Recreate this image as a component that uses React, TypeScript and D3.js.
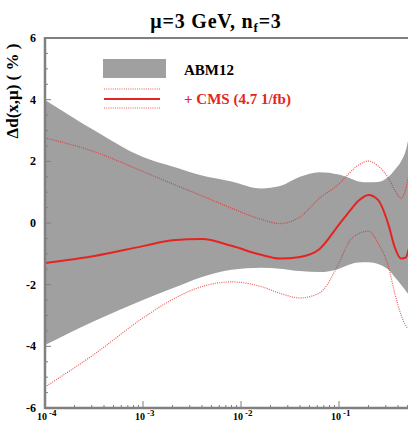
import { useEffect, useRef } from 'react';
import * as d3 from 'd3';

// x grid shared by all curves
const xValues = [1e-4, 3.2e-4, 1e-3, 2e-3, 4e-3, 8e-3, 0.016, 0.025, 0.04, 0.063, 0.1, 0.126, 0.158, 0.2, 0.25, 0.32, 0.37, 0.43, 0.48, 0.52, 0.63];

// ABM12 uncertainty band (%)
const abmUpper = [3.99, 3.0, 2.14, 1.83, 1.54, 1.35, 1.12, 1.2, 1.5, 1.65, 1.57, 1.47, 1.35, 1.32, 1.33, 1.5, 1.72, 2.0, 2.35, 2.85, 4.0];
const abmLower = [-3.96, -3.18, -2.5, -2.12, -1.75, -1.52, -1.45, -1.48, -1.56, -1.59, -1.48, -1.35, -1.28, -1.27, -1.33, -1.52, -1.75, -2.0, -2.2, -2.34, -2.6];

// + CMS (4.7 1/fb)
const cmsCentral = [-1.3, -1.07, -0.75, -0.56, -0.52, -0.74, -1.03, -1.15, -1.1, -0.85, -0.05, 0.35, 0.72, 0.91, 0.75, -0.06, -0.78, -1.15, -1.12, -0.8, 0.0];
const cmsUpper = [2.76, 2.31, 1.67, 1.27, 0.88, 0.48, 0.12, -0.02, 0.2, 0.8, 1.27, 1.6, 1.88, 2.01, 1.85, 1.45, 1.07, 0.81, 1.1, 1.6, 2.5];
const cmsLower = [-5.32, -4.25, -3.08, -2.48, -2.06, -1.91, -2.06, -2.28, -2.43, -2.27, -1.3, -0.62, -0.35, -0.26, -0.65, -1.43, -2.27, -2.98, -3.33, -3.42, -3.3];

const yTicks = [-6, -4, -2, 0, 2, 4, 6];
const xDecades = [1e-4, 1e-3, 1e-2, 1e-1];
const xDecadeExps = ['-4', '-3', '-2', '-1'];

const W = 408;
const H = 421;

export default function App() {
  const svgRef = useRef<SVGSVGElement>(null);

  useEffect(() => {
    if (!svgRef.current) return;
    const svg = d3.select(svgRef.current);
    svg.selectAll('*').remove();

    const left = 45, top = 38, bottom = 408;
    const axisColor = '#808080';
    const red = '#e52421';
    const font = '"Liberation Serif", "Times New Roman", serif';

    const x = d3.scaleLog().domain([1e-4, 1]).range([left, left + 4 * 98]);
    const y = d3.scaleLinear().domain([-6, 6]).range([bottom, top]);

    svg.append('defs').append('clipPath').attr('id', 'plot-clip')
      .append('rect').attr('x', left).attr('y', top).attr('width', W).attr('height', bottom - top);

    const plot = svg.append('g').attr('clip-path', 'url(#plot-clip)');

    const band = d3.area<number>()
      .x((_, i) => x(xValues[i]))
      .y0((_, i) => y(abmLower[i]))
      .y1(d => y(d))
      .curve(d3.curveMonotoneX);

    plot.append('path')
      .datum(abmUpper)
      .attr('d', band)
      .attr('fill', '#a0a0a0');

    const line = d3.line<number>()
      .x((_, i) => x(xValues[i]))
      .y(d => y(d))
      .curve(d3.curveMonotoneX);

    [cmsUpper, cmsLower].forEach(s => {
      plot.append('path')
        .datum(s)
        .attr('d', line)
        .attr('fill', 'none')
        .attr('stroke', red)
        .attr('stroke-width', 1.2)
        .attr('stroke-dasharray', '1,1.2')
        .attr('opacity', 0.75);
    });

    plot.append('path')
      .datum(cmsCentral)
      .attr('d', line)
      .attr('fill', 'none')
      .attr('stroke', red)
      .attr('stroke-width', 2);

    // frame
    svg.append('line').attr('x1', left).attr('x2', W).attr('y1', top).attr('y2', top)
      .attr('stroke', axisColor).attr('stroke-width', 2);
    svg.append('line').attr('x1', left).attr('x2', W).attr('y1', bottom).attr('y2', bottom)
      .attr('stroke', axisColor).attr('stroke-width', 2.5);
    svg.append('line').attr('x1', left).attr('x2', left).attr('y1', top - 1).attr('y2', bottom + 1)
      .attr('stroke', axisColor).attr('stroke-width', 2.5);

    // y ticks
    d3.range(-6, 6.01, 0.5).forEach(v => {
      const major = Number.isInteger(v / 2);
      svg.append('line')
        .attr('x1', left).attr('x2', left + (major ? 6 : 3))
        .attr('y1', y(v)).attr('y2', y(v))
        .attr('stroke', axisColor).attr('stroke-width', 1);
    });
    yTicks.forEach(v => {
      svg.append('text')
        .attr('x', 36).attr('y', y(v) + 4)
        .attr('text-anchor', 'end')
        .style('font-family', font).style('font-weight', 'bold').style('font-size', '12px')
        .text(v);
    });

    // x ticks
    xDecades.forEach(d => {
      for (let k = 1; k <= 9; k++) {
        const v = d * k;
        svg.append('line')
          .attr('x1', x(v)).attr('x2', x(v))
          .attr('y1', bottom).attr('y2', bottom - (k === 1 ? 7 : 3))
          .attr('stroke', axisColor).attr('stroke-width', 1);
      }
    });
    xDecades.forEach((d, i) => {
      svg.append('text')
        .attr('x', x(d) + 2).attr('y', 420)
        .attr('text-anchor', 'end')
        .style('font-family', font).style('font-weight', 'bold').style('font-size', '10px')
        .text('10');
      svg.append('text')
        .attr('x', x(d) + 4).attr('y', 416)
        .style('font-family', font).style('font-weight', 'bold').style('font-size', '9px')
        .text(xDecadeExps[i]);
    });

    // title
    const title = svg.append('text')
      .attr('x', 216).attr('y', 28)
      .attr('text-anchor', 'middle')
      .style('font-family', font).style('font-weight', 'bold').style('font-size', '20px')
      .style('letter-spacing', '0.8px');
    title.append('tspan').text('μ=3 GeV, n');
    title.append('tspan').attr('dy', 4).style('font-size', '13px').text('f');
    title.append('tspan').attr('dy', -4).text('=3');

    // y label
    svg.append('text')
      .attr('transform', 'translate(18,91) rotate(-90)')
      .attr('text-anchor', 'middle')
      .style('font-family', font).style('font-weight', 'bold').style('font-size', '17px')
      .text('Δd(x,μ) ( % )');

    // legend
    svg.append('rect').attr('x', 103).attr('y', 59).attr('width', 63).attr('height', 19).attr('fill', '#a0a0a0');
    svg.append('text').attr('x', 184).attr('y', 75)
      .style('font-family', font).style('font-weight', 'bold').style('font-size', '15px')
      .text('ABM12');
    [89, 108].forEach(ly => {
      svg.append('line').attr('x1', 104).attr('x2', 160).attr('y1', ly).attr('y2', ly)
        .attr('stroke', red).attr('stroke-width', 1.2).attr('stroke-dasharray', '1,1.2').attr('opacity', 0.75);
    });
    svg.append('line').attr('x1', 104).attr('x2', 160).attr('y1', 99).attr('y2', 99)
      .attr('stroke', red).attr('stroke-width', 2);
    svg.append('text').attr('x', 184).attr('y', 104)
      .style('font-family', font).style('font-weight', 'bold').style('font-size', '15px')
      .attr('fill', red)
      .text('+ CMS (4.7 1/fb)');
  }, []);

  return (
    <svg ref={svgRef} width={W} height={H}
      style={{ position: 'absolute', left: 0, top: 0, background: '#fff' }} />
  );
}
